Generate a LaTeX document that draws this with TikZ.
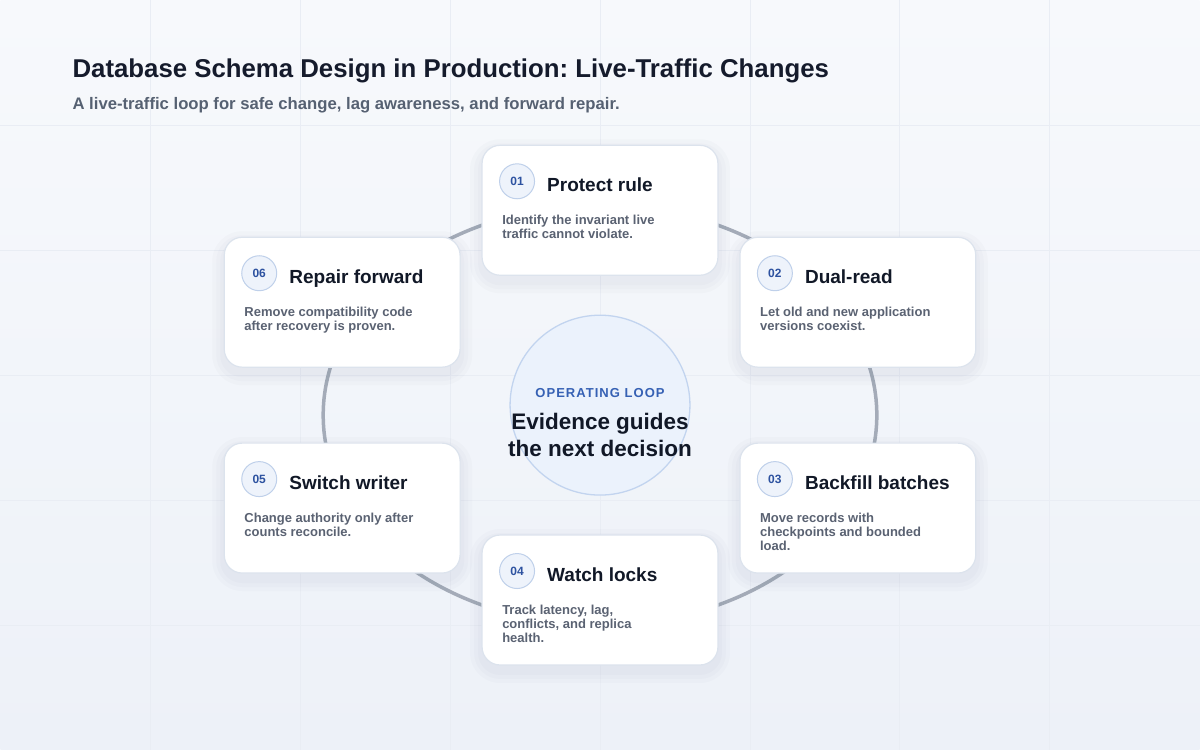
\documentclass[tikz,border=0pt]{standalone}
\usepackage{fontspec}
\setmainfont{Liberation Sans}
\frenchspacing
\usetikzlibrary{shadows}

\definecolor{bgtop}{HTML}{F7F9FC}
\definecolor{bgbot}{HTML}{EDF1F8}
\definecolor{gridc}{HTML}{E9EDF4}
\definecolor{ringc}{HTML}{A4ABB8}
\definecolor{cardline}{HTML}{DCE3ED}
\definecolor{shadowc}{HTML}{4A5A7A}
\definecolor{titlec}{HTML}{151B2C}
\definecolor{subc}{HTML}{566172}
\definecolor{headc}{HTML}{111827}
\definecolor{descc}{HTML}{5A6272}
\definecolor{badgefill}{HTML}{EEF3FB}
\definecolor{badgeline}{HTML}{BFD0EA}
\definecolor{badgetext}{HTML}{2D52A0}
\definecolor{hubfill}{HTML}{EBF2FC}
\definecolor{hubline}{HTML}{C2D4EF}
\definecolor{loopc}{HTML}{3661B4}

\begin{document}
\begin{tikzpicture}
	[x=1pt,y=-1pt,
	card/.style={draw=cardline, fill=white, line width=1.2pt, rounded corners=18pt,
		minimum width=236pt, minimum height=130pt},
	glow/.style={fill=shadowc, opacity=0.025},
	badge/.style={circle, draw=badgeline, fill=badgefill, line width=1pt, minimum size=35pt,
		inner sep=0pt, text=badgetext, font=\bfseries\fontsize{12}{12}\selectfont},
	head/.style={anchor=base west, inner sep=0pt, text=headc, font=\bfseries\fontsize{19}{22}\selectfont},
	desc/.style={anchor=north west, inner sep=0pt, align=left, text=descc,
		font=\bfseries\fontsize{13}{14}\selectfont},
	hub/.style={circle, draw=hubline, fill=hubfill, line width=1.3pt, minimum size=180pt, inner sep=0pt}]
	
	\shade[top color=bgtop, bottom color=bgbot] (0,0) rectangle (1200,750);
	\foreach \gx in {150,300,...,1050}
	\draw[gridc, line width=0.8pt] (\gx,0) -- (\gx,750);
	\foreach \gy in {125,250,...,625}
	\draw[gridc, line width=0.8pt] (0,\gy) -- (1200,\gy);
	
	\node[anchor=base west, inner sep=0pt, text=titlec, font=\bfseries\fontsize{25.8}{30}\selectfont]
		(title) at (72,77) {Database Schema Design in Production: Live-Traffic Changes};
	\node[anchor=base west, inner sep=0pt, text=subc, font=\bfseries\fontsize{16.7}{19}\selectfont]
		(subtitle) at (72,109.5) {A live-traffic loop for safe change, lag awareness, and forward repair.};
	
	\draw[ringc, line width=3.5pt] (600,415) ellipse [x radius=277pt, y radius=210pt];
	
	\foreach \idx/\x/\y/\ttl/\txt in {
		01/600/210/{Protect rule}/{Identify the invariant live\\traffic cannot violate.},
		02/858/302/{Dual-read}/{Let old and new application\\versions coexist.},
		03/858/508/{Backfill batches}/{Move records with\\checkpoints and bounded\\load.},
		04/600/600/{Watch locks}/{Track latency, lag,\\conflicts, and replica\\health.},
		05/342/508/{Switch writer}/{Change authority only after\\counts reconcile.},
		06/342/302/{Repair forward}/{Remove compatibility code\\after recovery is proven.}}
	{
		% soft shadow under the card
		\foreach \s in {4,8,12}
		\fill[glow, rounded corners=18pt+\s] (\x-118-\s,\y-65-\s+6) rectangle (\x+118+\s,\y+65+\s+6);
		\node[card] (c\idx) at (\x,\y) {};
		\node[badge] (b\idx) at (\x-83,\y-29) {\idx};
		\node[head] (t\idx) at (\x-53,\y-19) {\ttl};
		\node[desc] (d\idx) at (\x-98,\y+4.5) {\txt};
	}
	
	\node[hub] (hub) at (600,405) {};
	\node[text=loopc, inner sep=0pt, anchor=base,
		font=\bfseries\fontsize{13}{13}\selectfont\addfontfeature{LetterSpace=8}]
		(loop) at (600,397.5) {OPERATING LOOP};
	\node[text=headc, inner sep=0pt, align=center, font=\bfseries\fontsize{22.5}{27}\selectfont]
		(goal) at (600,435) {Evidence guides\\the next decision};
\end{tikzpicture}
\end{document}
